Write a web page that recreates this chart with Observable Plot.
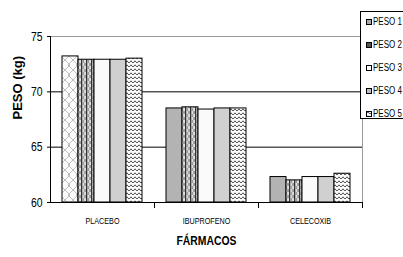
<!DOCTYPE html>
<html>
<head>
<meta charset="utf-8">
<script src="https://cdn.jsdelivr.net/npm/d3@7"></script>
<script src="https://cdn.jsdelivr.net/npm/@observablehq/plot@0.6"></script>
<style>
  html, body { margin: 0; padding: 0; background: #fff; overflow: hidden; }
  #wrap { position: relative; width: 403px; height: 257px; }
  #legend { position: absolute; left: 360px; top: 11px; width: 50px; height: 108px;
    border: 1px solid #000; background: #fff; box-sizing: border-box;
    font-family: "Liberation Sans", Arial, sans-serif; font-size: 10px; color: #000; white-space: nowrap; }
  .row { height: 23px; display: flex; align-items: center; padding-left: 5px; }
  .row svg { margin-right: 1px; flex: none; }
  .row span { display: inline-block; transform: scaleX(0.8); transform-origin: left center; }
</style>
</head>
<body>
<div id="wrap"><div id="chart"></div><div id="legend"></div></div>
<script>
const categories = ["PLACEBO", "IBUPROFENO", "CELECOXIB"];
const series = ["PESO 1", "PESO 2", "PESO 3", "PESO 4", "PESO 5"];
const peso1 = [73.2, 68.5, 62.3];
const peso2 = [72.9, 68.6, 62.0];
const peso3 = [72.9, 68.4, 62.3];
const peso4 = [72.9, 68.5, 62.3];
const peso5 = [73.0, 68.5, 62.6];
const yTicks = [60, 65, 70, 75];
const baseline = 60;

const values = [peso1, peso2, peso3, peso4, peso5];
const data = categories.flatMap((c, i) => series.map((s, j) => ({cat: c, s, v: values[j][i]})));

const W = 403, H = 257, mL = 49, mR = 40, mT = 36, mB = 55;
const plotH = H - mT - mB;
const font = '"Liberation Sans", Arial, sans-serif';

const fills = {"PESO 1": "#b3b3b3", "PESO 2": "url(#pat-check)", "PESO 3": "#fafafa", "PESO 4": "#d0d0d0", "PESO 5": "url(#pat-wave)"};
const fillOf = d => (d.s === "PESO 1" && d.cat === "PLACEBO") ? "url(#pat-lattice)" : fills[d.s];

const chart = Plot.plot({
  width: W, height: H, marginLeft: mL, marginRight: mR, marginTop: mT, marginBottom: mB,
  style: {fontFamily: font, background: "#fff"},
  fx: {domain: categories, padding: 0, label: null},
  x: {domain: series, paddingInner: 0, paddingOuter: 0.72, axis: null},
  y: {domain: [60, 75], ticks: yTicks},
  color: {type: "identity"},
  marks: [
    Plot.ruleY([75], {stroke: "#9a9a9a", strokeWidth: 1}),
    Plot.ruleY([65, 70], {stroke: "#000", strokeWidth: 1}),
    Plot.frame({anchor: "right", stroke: "#9a9a9a", facetAnchor: "right"}),
    Plot.barY(data, {fx: "cat", x: "s", y1: baseline, y2: "v", fill: fillOf, stroke: "#000", strokeWidth: 1}),
    Plot.frame({anchor: "left", stroke: "#000", facetAnchor: "left"}),
    Plot.frame({anchor: "bottom", stroke: "#000"}),
    Plot.frame({anchor: "right", stroke: "#000", insetTop: plotH, insetBottom: -5}),
    Plot.axisY({ticks: yTicks, tickSize: 3, tickPadding: 5, fontSize: 13, label: null, facetAnchor: "left"}),
    Plot.axisFx({anchor: "bottom", tickSize: 0, tickPadding: 15, fontSize: 9, label: null}),
    Plot.text(["PESO (kg)"], {facet: "super", frameAnchor: "left", rotate: -90, dx: -33, fontSize: 13, fontWeight: "bold"}),
    Plot.text(["FÁRMACOS"], {facet: "super", frameAnchor: "bottom", dy: 42, fontSize: 13, fontWeight: "bold"})
  ]
});

// condense text horizontally (reference uses a narrow face)
const sx = 0.8;
chart.querySelectorAll("text").forEach(el => {
  if (el.textContent === "PESO (kg)") return;
  const t = el.getAttribute("transform") || "";
  const x = el.getAttribute("x");
  if (x != null && !isNaN(+x)) el.setAttribute("x", +x / sx);
  el.setAttribute("transform", `${t} scale(${sx},1)`);
});

const defs = `
<defs>
  <pattern id="pat-lattice" patternUnits="userSpaceOnUse" width="8" height="10">
    <rect width="8" height="10" fill="#fbfbfb"/>
    <path d="M0,0 L5,5 L0,10 M8,0 L3,5 L8,10" fill="none" stroke="#b8b8b8" stroke-width="0.9"/>
  </pattern>
  <pattern id="pat-check" patternUnits="userSpaceOnUse" width="5" height="6">
    <rect width="5" height="6" fill="#e0e0e0"/>
    <rect x="0" y="0" width="1.3" height="6" fill="#333"/>
    <rect x="1.3" y="0" width="1.8" height="3" fill="#9a9a9a"/>
    <rect x="3.1" y="3" width="1.9" height="3" fill="#9a9a9a"/>
  </pattern>
  <pattern id="pat-wave" patternUnits="userSpaceOnUse" width="4" height="4">
    <rect width="4" height="4" fill="#fff"/>
    <path d="M0,3.2 L2,0.8 L4,3.2" fill="none" stroke="#222" stroke-width="0.8"/>
  </pattern>
</defs>`;
chart.insertAdjacentHTML("afterbegin", defs);
document.getElementById("chart").append(chart);

const legendFills = {"PESO 1": "#a8a8a8", "PESO 2": "#555", "PESO 3": "#fff", "PESO 4": "#bdbdbd", "PESO 5": "url(#pat-wave)"};
const legend = document.getElementById("legend");
series.forEach((s, i) => {
  const row = document.createElement("div");
  row.className = "row";
  if (i === 0) row.style.marginTop = "-2px";
  row.innerHTML = `<svg width="6" height="6"><rect x="0.5" y="0.5" width="5" height="5" fill="${legendFills[s]}" stroke="#000" stroke-width="1"/></svg><span>${s}</span>`;
  legend.append(row);
});
</script>
</body>
</html>
